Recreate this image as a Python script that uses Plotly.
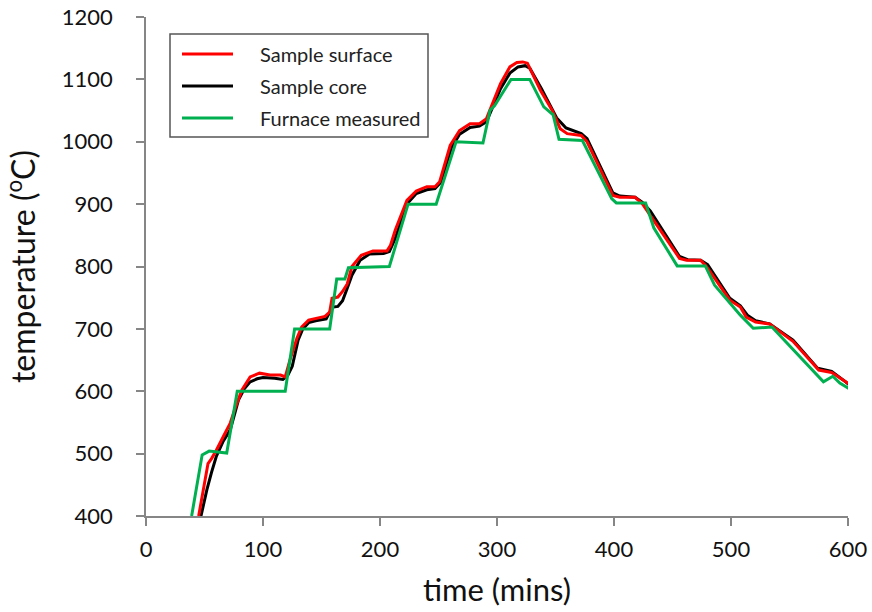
import plotly.graph_objects as go

# ---------------- data ----------------
surface_t = [45, 49, 53, 56, 60, 66, 72, 77, 82, 89, 97, 106, 115, 119, 123, 129, 133, 139, 145, 153,
             157, 159, 164, 168, 172, 176, 184, 194, 206, 209, 213, 223, 231, 240, 247, 251, 260, 268,
             277, 285, 291, 303, 311, 317, 322, 326, 337, 347, 354, 360, 372, 377, 399, 405, 418, 424,
             431, 456, 462, 474, 479, 499, 508, 513, 521, 533, 553, 575, 586, 599, 603]
surface_T = [400, 445, 484, 492, 505, 527, 549, 577, 602, 623, 629, 626, 626, 623, 650, 685, 703, 714, 717, 720,
             727, 749, 751, 760, 772, 800, 818, 825, 825, 834, 858, 906, 921, 928, 928, 936, 994, 1018,
             1029, 1029, 1037, 1093, 1120, 1127, 1128, 1126, 1083, 1051, 1021, 1013, 1010, 1000, 914, 911, 911, 901,
             882, 813, 810, 810, 800, 746, 735, 719, 711, 708, 680, 634, 630, 613, 609]

core_t = [47, 52, 56, 60, 66, 72, 79, 84, 89, 95, 100, 110, 117, 121, 125, 130, 134, 139, 145, 154,
          158, 160, 164, 168, 172, 176, 183, 191, 203, 208, 213, 223, 231, 240, 247, 252, 261, 268,
          277, 285, 291, 303, 311, 318, 324, 328, 338, 351, 359, 372, 377, 399, 405, 418, 424, 431,
          456, 463, 474, 480, 499, 508, 514, 521, 533, 553, 574, 586, 598, 603]
core_T = [400, 442, 470, 495, 520, 538, 586, 604, 615, 620, 622, 621, 619, 625, 640, 682, 700, 710, 713, 716,
          730, 735, 736, 745, 765, 786, 810, 820, 821, 824, 845, 900, 917, 923, 925, 935, 990, 1012,
          1023, 1025, 1032, 1085, 1110, 1120, 1122, 1118, 1085, 1038, 1022, 1013, 1005, 918, 913, 911, 903, 889,
          816, 811, 810, 803, 749, 737, 722, 713, 708, 682, 637, 632, 615, 607]

furnace_t = [39, 48, 54, 69, 78, 119, 127, 157, 163, 170, 173, 208, 224, 248, 265, 288, 294, 298, 312, 328,
             340, 348, 353, 373, 398, 402, 427, 434, 454, 478, 486, 508, 519, 535, 579, 587, 593, 603]
furnace_T = [400, 498, 504, 501, 600, 600, 700, 700, 780, 780, 798, 800, 900, 900, 1000, 998, 1050, 1058, 1100, 1100,
             1056, 1043, 1004, 1002, 909, 902, 902, 862, 801, 801, 770, 722, 701, 703, 615, 624, 613, 602]

series_names = ["Sample surface", "Sample core", "Furnace measured"]
series_colors = ["#FF0000", "#000000", "#00B050"]

x_ticks = [0, 100, 200, 300, 400, 500, 600]
y_ticks = [400, 500, 600, 700, 800, 900, 1000, 1100, 1200]

FONT = "Lato"
AXIS_COLOR = "#868686"
TEXT_COLOR = "#111111"

fig = go.Figure()
# draw order: core (bottom), surface, furnace (top)
fig.add_trace(go.Scatter(x=core_t, y=core_T, mode="lines", name=series_names[1],
                         line=dict(color=series_colors[1], width=3), showlegend=False))
fig.add_trace(go.Scatter(x=surface_t, y=surface_T, mode="lines", name=series_names[0],
                         line=dict(color=series_colors[0], width=3), showlegend=False))
fig.add_trace(go.Scatter(x=furnace_t, y=furnace_T, mode="lines", name=series_names[2],
                         line=dict(color=series_colors[2], width=3), showlegend=False))

# ---------------- layout geometry (page pixels; body margin removed below) ----------------
L, R, T, B = 146, 848, 17, 516
W, H = 872, 612

def px(xp):
    return (xp - L) / (R - L)
def py(yp):
    return (B - yp) / (B - T)

# ---------------- manual legend (paper coordinates) ----------------
shapes = [dict(type="rect", xref="paper", yref="paper",
               x0=px(170), x1=px(428), y0=py(34), y1=py(137),
               line=dict(color="#555555", width=1.5), fillcolor="white", layer="above")]
annotations = []
for i, (nm, col) in enumerate(zip(series_names, series_colors)):
    yy = 54 + 32 * i
    shapes.append(dict(type="line", xref="paper", yref="paper",
                       x0=px(182), x1=px(233), y0=py(yy), y1=py(yy),
                       line=dict(color=col, width=3), layer="above"))
    annotations.append(dict(xref="paper", yref="paper", x=px(258), y=py(yy),
                            text=nm, showarrow=False, xanchor="left", yanchor="middle",
                            font=dict(family=FONT, size=20, color="#222222")))

fig.update_layout(
    width=W, height=H,
    margin=dict(l=L, r=W - R, t=T, b=H - B, autoexpand=False),
    paper_bgcolor="white", plot_bgcolor="white",
    font=dict(family=FONT, color=TEXT_COLOR),
    shapes=shapes, annotations=annotations,
    showlegend=False,
)
fig.update_xaxes(range=[0, 600], tickvals=x_ticks, ticktext=[str(v) for v in x_ticks],
                 showline=True, linecolor=AXIS_COLOR, linewidth=1.5,
                 ticks="outside", ticklen=8, tickwidth=1.5, tickcolor=AXIS_COLOR,
                 showgrid=False, zeroline=False, ticklabelstandoff=5, ticklabeloverflow="allow",
                 tickfont=dict(family=FONT, size=22, color=TEXT_COLOR),
                 title=dict(text="time (mins)", font=dict(family=FONT, size=31, color=TEXT_COLOR), standoff=18))
fig.update_yaxes(range=[400, 1200], tickvals=y_ticks, ticktext=[str(v) for v in y_ticks],
                 showline=True, linecolor=AXIS_COLOR, linewidth=1.5,
                 ticks="outside", ticklen=8, tickwidth=1.5, tickcolor=AXIS_COLOR,
                 showgrid=False, zeroline=False, ticklabelstandoff=19, ticklabeloverflow="allow",
                 tickfont=dict(family=FONT, size=22, color=TEXT_COLOR),
                 title=dict(text="temperature (<sup>o</sup>C)", font=dict(family=FONT, size=32, color=TEXT_COLOR), standoff=27))

fig.write_html("out.html", config={"displayModeBar": False},
               post_script="document.body.style.margin='0';")
